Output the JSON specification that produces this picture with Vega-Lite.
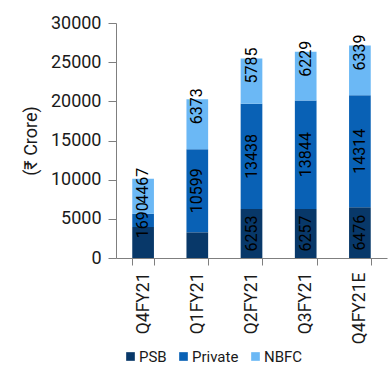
{
  "$schema": "https://vega.github.io/schema/vega-lite/v6.json",
  "width": 271,
  "height": 235,
  "autosize": {"type": "none"},
  "padding": {"left": 116, "top": 23, "right": 3, "bottom": 107},
  "background": "white",
  "config": {
    "view": {"stroke": null},
    "font": "Roboto",
    "axisY": {
      "title": "(₹ Crore)",
      "titleFontSize": 18,
      "titleFontWeight": "normal",
      "titleColor": "#1a1a1a",
      "titlePadding": 10,
      "labelOverlap": false,
      "grid": false,
      "labelFontSize": 18,
      "labelColor": "#1a1a1a",
      "labelPadding": 7,
      "tickSize": 8,
      "domainColor": "#7f7f7f",
      "tickColor": "#7f7f7f"
    }
  },
  "data": {
    "values": [
      {"quarter": "Q4FY21", "series": "PSB", "value": 3970},
      {"quarter": "Q4FY21", "series": "Private", "value": 1690},
      {"quarter": "Q4FY21", "series": "NBFC", "value": 4467},
      {"quarter": "Q1FY21", "series": "PSB", "value": 3280},
      {"quarter": "Q1FY21", "series": "Private", "value": 10599},
      {"quarter": "Q1FY21", "series": "NBFC", "value": 6373},
      {"quarter": "Q2FY21", "series": "PSB", "value": 6253},
      {"quarter": "Q2FY21", "series": "Private", "value": 13438},
      {"quarter": "Q2FY21", "series": "NBFC", "value": 5785},
      {"quarter": "Q3FY21", "series": "PSB", "value": 6257},
      {"quarter": "Q3FY21", "series": "Private", "value": 13844},
      {"quarter": "Q3FY21", "series": "NBFC", "value": 6229},
      {"quarter": "Q4FY21E", "series": "PSB", "value": 6476},
      {"quarter": "Q4FY21E", "series": "Private", "value": 14314},
      {"quarter": "Q4FY21E", "series": "NBFC", "value": 6339}
    ]
  },
  "transform": [
    {"calculate": "indexof(['PSB','Private','NBFC'], datum.series)", "as": "k"}
  ],
  "encoding": {
    "x": {
      "field": "quarter",
      "type": "nominal",
      "sort": null,
      "scale": {"paddingInner": 0.6, "paddingOuter": 0.3},
      "axis": {
        "title": null,
        "labelAngle": -90,
        "labelFontSize": 17.5,
        "labelColor": "#1a1a1a",
        "labelPadding": 7,
        "tickSize": 7,
        "tickBand": "extent",
        "domainColor": "#7f7f7f",
        "tickColor": "#7f7f7f"
      }
    }
  },
  "layer": [
    {
      "mark": {"type": "bar"},
      "encoding": {
        "y": {
          "field": "value",
          "type": "quantitative",
          "stack": "zero",
          "scale": {"domain": [0, 30000]},
          "axis": {"values": [0, 5000, 10000, 15000, 20000, 25000, 30000], "format": "d", "title": "(₹ Crore)"}
        },
        "color": {
          "field": "series",
          "type": "nominal",
          "scale": {"domain": ["PSB", "Private", "NBFC"], "range": ["#083869", "#0961b5", "#6bb8f5"]},
          "legend": {
            "title": null,
            "orient": "none",
            "direction": "horizontal",
            "legendX": 7,
            "legendY": 326,
            "gridAlign": "none",
            "symbolType": "square",
            "symbolSize": 75,
            "symbolStrokeWidth": 0,
            "labelFontSize": 15,
            "labelColor": "#1a1a1a",
            "labelOffset": 1,
            "labelLimit": 200,
            "columnPadding": 9
          }
        },
        "order": {"field": "k", "type": "quantitative"}
      }
    },
    {
      "mark": {"type": "text", "angle": 270, "align": "center", "baseline": "middle", "fontSize": 16, "color": "#000000"},
      "encoding": {
        "y": {
          "field": "value",
          "type": "quantitative",
          "stack": "zero",
          "bandPosition": 0.5,
          "scale": {"domain": [0, 30000]},
          "axis": {"values": [0, 5000, 10000, 15000, 20000, 25000, 30000], "format": "d", "title": "(₹ Crore)"}
        },
        "detail": {"field": "series"},
        "order": {"field": "k", "type": "quantitative"},
        "text": {
          "condition": {"test": "datum.series === 'NBFC' || (datum.series === 'PSB' && datum.value < 5000)", "value": ""},
          "field": "value",
          "type": "quantitative",
          "format": "d"
        }
      }
    },
    {
      "mark": {"type": "text", "angle": 270, "align": "center", "baseline": "middle", "fontSize": 16, "color": "#000000", "dx": -7},
      "encoding": {
        "y": {
          "field": "value",
          "type": "quantitative",
          "stack": "zero",
          "scale": {"domain": [0, 30000]},
          "axis": {"values": [0, 5000, 10000, 15000, 20000, 25000, 30000], "format": "d", "title": "(₹ Crore)"}
        },
        "detail": {"field": "series"},
        "order": {"field": "k", "type": "quantitative"},
        "text": {
          "condition": {"test": "datum.series !== 'NBFC'", "value": ""},
          "field": "value",
          "type": "quantitative",
          "format": "d"
        }
      }
    }
  ]
}
